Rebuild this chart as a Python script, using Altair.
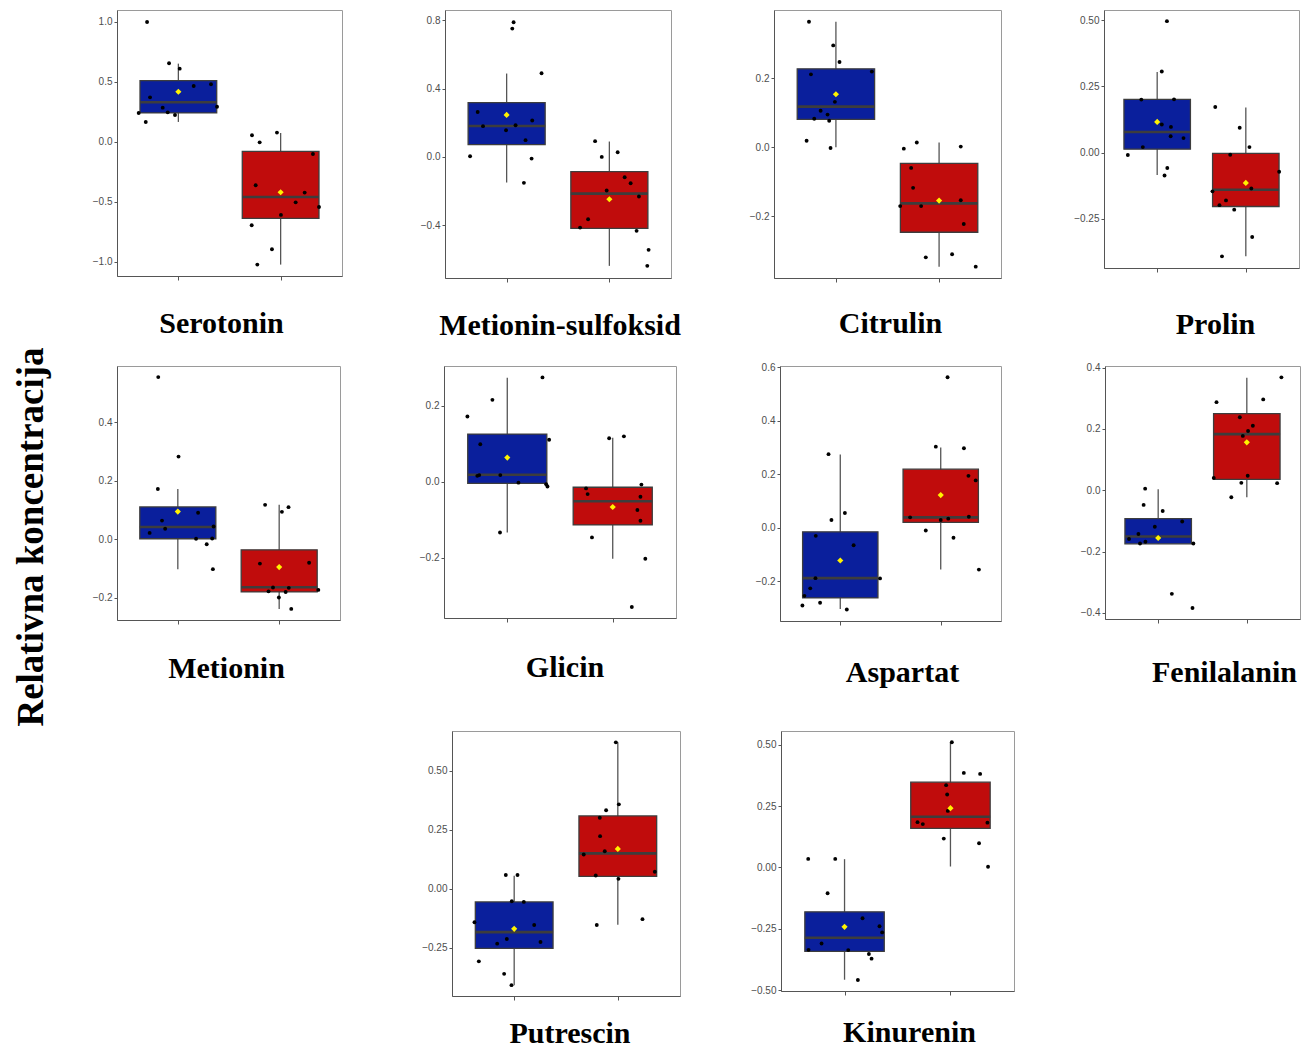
import altair as alt
import pandas as pd

NAMES = ["Serotonin", "Metionin-sulfoksid", "Citrulin", "Prolin",
         "Metionin", "Glicin", "Aspartat", "Fenilalanin",
         "Putrescin", "Kinurenin"]

# y-axis ranges and tick values per panel
Y_MIN = [-1.117, -0.709, -0.380, -0.435, -0.276, -0.358, -0.348, -0.420, -0.455, -0.504]
Y_MAX = [1.10, 0.86, 0.399, 0.538, 0.593, 0.305, 0.604, 0.405, 0.669, 0.557]
TICKS = [[-1.0, -0.5, 0.0, 0.5, 1.0], [-0.4, 0.0, 0.4, 0.8], [-0.2, 0.0, 0.2],
         [-0.25, 0.0, 0.25, 0.5], [-0.2, 0.0, 0.2, 0.4], [-0.2, 0.0, 0.2],
         [-0.2, 0.0, 0.2, 0.4, 0.6], [-0.4, -0.2, 0.0, 0.2, 0.4],
         [-0.25, 0.0, 0.25, 0.5], [-0.5, -0.25, 0.0, 0.25, 0.5]]
FORMATS = [".1f", ".1f", ".1f", ".2f", ".1f", ".1f", ".1f", ".1f", ".2f", ".2f"]

# box statistics, group A (blue) and group B (red)
A_Q1 = [0.242, 0.072, 0.081, 0.013, 0.002, -0.004, -0.262, -0.175, -0.253, -0.342]
A_MED = [0.331, 0.181, 0.118, 0.078, 0.042, 0.019, -0.188, -0.151, -0.184, -0.287]
A_Q3 = [0.511, 0.318, 0.228, 0.201, 0.111, 0.126, -0.015, -0.093, -0.056, -0.181]
A_LO = [0.167, -0.150, 0.0, -0.084, -0.102, -0.133, -0.303, -0.175, -0.409, -0.458]
A_HI = [0.653, 0.488, 0.365, 0.304, 0.172, 0.274, 0.274, 0.003, 0.055, 0.034]
A_MEAN = [0.419, 0.246, 0.154, 0.116, 0.095, 0.064, -0.122, -0.156, -0.170, -0.242]

B_Q1 = [-0.636, -0.418, -0.247, -0.203, -0.180, -0.113, 0.020, 0.035, 0.052, 0.160]
B_MED = [-0.458, -0.215, -0.163, -0.140, -0.164, -0.051, 0.039, 0.183, 0.150, 0.207]
B_Q3 = [-0.078, -0.086, -0.047, -0.003, -0.036, -0.014, 0.219, 0.250, 0.309, 0.348]
B_LO = [-1.022, -0.638, -0.347, -0.391, -0.238, -0.202, -0.156, -0.023, -0.153, 0.004]
B_HI = [0.075, 0.090, 0.014, 0.170, 0.118, 0.116, 0.300, 0.367, 0.621, 0.510]
B_MEAN = [-0.419, -0.248, -0.155, -0.114, -0.095, -0.066, 0.122, 0.156, 0.169, 0.242]

# individual observations (values) and their horizontal jitter
serotonin_a = [1.0, 0.656, 0.611, 0.467, 0.481, 0.372, 0.286, 0.247, 0.225, 0.294, 0.242, 0.167]
serotonin_a_jit = [-0.306, -0.091, 0.013, 0.150, 0.319, -0.277, -0.153, -0.104, -0.033, 0.378, -0.388, -0.319]
serotonin_b = [0.056, -0.003, 0.078, -0.100, -0.361, -0.422, -0.503, -0.542, -0.608, -0.694, -0.894, -1.022]
serotonin_b_jit = [-0.280, -0.205, -0.036, 0.316, -0.244, 0.235, 0.147, 0.375, 0.003, -0.283, -0.085, -0.228]

metsulf_a = [0.788, 0.751, 0.490, 0.263, 0.180, 0.185, 0.213, 0.156, 0.098, 0.004, -0.010, -0.152]
metsulf_a_jit = [0.068, 0.055, 0.340, -0.282, -0.230, 0.087, 0.249, -0.006, 0.184, -0.356, 0.243, 0.168]
metsulf_b = [0.092, 0.0, 0.027, -0.119, -0.154, -0.197, -0.232, -0.365, -0.414, -0.433, -0.544, -0.638]
metsulf_b_jit = [-0.139, -0.074, 0.081, 0.149, 0.207, -0.026, 0.288, -0.207, -0.285, 0.265, 0.382, 0.369]

citrulin_a = [0.365, 0.296, 0.248, 0.212, 0.220, 0.132, 0.106, 0.095, 0.083, 0.077, 0.019, -0.002]
citrulin_a_jit = [-0.261, -0.026, 0.035, -0.242, 0.348, -0.010, -0.148, -0.081, -0.210, -0.065, -0.284, -0.052]
citrulin_b = [0.014, -0.004, 0.002, -0.060, -0.118, -0.171, -0.171, -0.154, -0.223, -0.320, -0.311, -0.347]
citrulin_b_jit = [-0.216, -0.342, 0.210, -0.271, -0.252, -0.377, -0.174, 0.210, 0.239, -0.129, 0.126, 0.355]

prolin_a = [0.496, 0.306, 0.200, 0.201, 0.106, 0.097, 0.062, 0.055, 0.021, -0.009, -0.058, -0.086]
prolin_a_jit = [0.110, 0.052, -0.179, 0.190, 0.052, 0.155, 0.152, 0.297, -0.162, -0.331, 0.114, 0.083]
prolin_b = [0.172, 0.094, 0.021, -0.008, -0.072, -0.146, -0.135, -0.180, -0.198, -0.215, -0.318, -0.391]
prolin_b_jit = [-0.345, -0.069, 0.041, -0.176, 0.376, -0.376, 0.062, -0.224, -0.297, -0.131, 0.072, -0.269]

metionin_a = [0.555, 0.283, 0.172, 0.091, 0.064, 0.036, 0.022, 0.044, 0.002, 0.003, -0.017, -0.102]
metionin_a_jit = [-0.193, 0.007, -0.197, 0.200, -0.156, -0.125, -0.278, 0.353, 0.180, 0.339, 0.285, 0.346]
metionin_b = [0.118, 0.110, 0.094, -0.083, -0.080, -0.165, -0.166, -0.178, -0.180, -0.173, -0.199, -0.238]
metionin_b_jit = [-0.139, 0.092, 0.027, -0.190, 0.295, -0.061, 0.095, -0.105, 0.064, 0.386, -0.003, 0.119]

glicin_a = [0.275, 0.216, 0.172, 0.111, 0.099, 0.016, 0.018, 0.018, -0.002, -0.006, -0.012, -0.133]
glicin_a_jit = [0.334, -0.141, -0.378, 0.397, -0.256, -0.284, -0.266, -0.066, 0.106, 0.369, 0.381, -0.069]
glicin_b = [0.120, 0.115, -0.007, -0.017, -0.032, -0.039, -0.074, -0.102, -0.146, -0.202, -0.329]
glicin_b_jit = [0.106, -0.034, 0.272, -0.253, -0.238, 0.263, 0.234, 0.263, -0.197, 0.309, 0.181]

aspartat_a = [0.275, 0.055, 0.029, -0.030, -0.065, -0.188, -0.189, -0.226, -0.254, -0.280, -0.290, -0.305]
aspartat_a_jit = [-0.117, 0.046, -0.088, -0.244, 0.133, -0.247, 0.396, -0.299, -0.357, -0.201, -0.377, 0.065]
aspartat_b = [0.562, 0.303, 0.297, 0.194, 0.177, 0.039, 0.041, 0.029, 0.034, -0.010, -0.037, -0.156]
aspartat_b_jit = [0.068, -0.049, 0.231, 0.276, 0.348, -0.305, 0.280, 0.0, 0.075, -0.149, 0.127, 0.380]

fenil_a = [0.005, -0.048, -0.068, -0.102, -0.119, -0.143, -0.159, -0.168, -0.174, -0.174, -0.338, -0.384]
fenil_a_jit = [-0.147, -0.164, 0.051, 0.271, -0.038, -0.223, -0.329, -0.144, -0.205, 0.397, 0.154, 0.387]
fenil_b = [0.368, 0.287, 0.296, 0.238, 0.210, 0.193, 0.177, 0.047, 0.040, 0.024, 0.023, -0.023]
fenil_b_jit = [0.390, -0.342, 0.185, -0.079, 0.068, 0.014, -0.045, 0.010, -0.373, -0.062, 0.342, -0.175]

putrescin_a = [0.058, 0.058, -0.053, -0.056, -0.142, -0.154, -0.213, -0.233, -0.226, -0.308, -0.361, -0.409]
putrescin_a_jit = [-0.081, 0.032, -0.023, 0.093, -0.383, 0.193, -0.071, -0.164, 0.254, -0.341, -0.097, -0.026]
putrescin_b = [0.621, 0.358, 0.333, 0.301, 0.223, 0.145, 0.159, 0.056, 0.042, 0.072, -0.154, -0.129]
putrescin_b_jit = [-0.019, 0.010, -0.113, -0.174, -0.171, -0.329, -0.126, -0.213, 0.006, 0.357, -0.203, 0.238]

kinurenin_a = [0.035, 0.035, -0.105, -0.207, -0.240, -0.265, -0.310, -0.336, -0.337, -0.353, -0.372, -0.459]
kinurenin_a_jit = [-0.343, -0.088, -0.160, 0.170, 0.330, 0.355, -0.217, -0.340, 0.035, 0.230, 0.255, 0.126]
kinurenin_b = [0.511, 0.386, 0.382, 0.336, 0.298, 0.231, 0.185, 0.177, 0.183, 0.118, 0.099, 0.003]
kinurenin_b_jit = [0.013, 0.126, 0.280, -0.041, -0.031, -0.025, -0.311, -0.261, 0.349, -0.063, 0.270, 0.355]

POINTS = [
    (serotonin_a, serotonin_a_jit, serotonin_b, serotonin_b_jit),
    (metsulf_a, metsulf_a_jit, metsulf_b, metsulf_b_jit),
    (citrulin_a, citrulin_a_jit, citrulin_b, citrulin_b_jit),
    (prolin_a, prolin_a_jit, prolin_b, prolin_b_jit),
    (metionin_a, metionin_a_jit, metionin_b, metionin_b_jit),
    (glicin_a, glicin_a_jit, glicin_b, glicin_b_jit),
    (aspartat_a, aspartat_a_jit, aspartat_b, aspartat_b_jit),
    (fenil_a, fenil_a_jit, fenil_b, fenil_b_jit),
    (putrescin_a, putrescin_a_jit, putrescin_b, putrescin_b_jit),
    (kinurenin_a, kinurenin_a_jit, kinurenin_b, kinurenin_b_jit),
]

BLUE = "#0A1F9C"
RED = "#C00C0C"
EDGE = "#3d3d3d"
TITLE_FONT = "Liberation Serif"


def panel(i, w, h, toff, tdx):
    stats = pd.DataFrame({
        "grp": ["A", "B"], "g": [1, 2],
        "q1": [A_Q1[i], B_Q1[i]], "med": [A_MED[i], B_MED[i]],
        "q3": [A_Q3[i], B_Q3[i]], "lo": [A_LO[i], B_LO[i]],
        "hi": [A_HI[i], B_HI[i]], "mean": [A_MEAN[i], B_MEAN[i]],
    })
    va, ja, vb, jb = POINTS[i]
    pts = pd.DataFrame({
        "g": [1] * len(va) + [2] * len(vb),
        "jit": list(ja) + list(jb),
        "v": list(va) + list(vb),
    })
    xs = alt.Scale(domain=[0.4, 2.6], nice=False, zero=False)
    ys = alt.Scale(domain=[Y_MIN[i], Y_MAX[i]], nice=False, zero=False)
    xa = alt.Axis(values=[1, 2], labels=False, title="", ticks=True, tickSize=4, grid=False)
    ya = alt.Axis(values=TICKS[i], format=FORMATS[i], title="", grid=False)
    base = alt.Chart(stats).transform_calculate(xl="datum.g - 0.375", xr="datum.g + 0.375")
    whisk = base.mark_rule(color="#555555", strokeWidth=1.3).encode(
        x=alt.X("g:Q", scale=xs, axis=xa),
        y=alt.Y("lo:Q", scale=ys, axis=ya), y2="hi:Q")
    box = base.mark_rect(stroke=EDGE, strokeWidth=1.3).encode(
        x=alt.X("xl:Q", scale=xs, axis=xa), x2="xr:Q",
        y=alt.Y("q1:Q", scale=ys, axis=ya), y2="q3:Q",
        color=alt.Color("grp:N", scale=alt.Scale(domain=["A", "B"], range=[BLUE, RED]), legend=None))
    med = base.mark_rule(color=EDGE, strokeWidth=2.6).encode(
        x=alt.X("xl:Q", scale=xs, axis=xa), x2="xr:Q",
        y=alt.Y("med:Q", scale=ys, axis=ya))
    dots = alt.Chart(pts).transform_calculate(xp="datum.g + datum.jit").mark_circle(
        size=15, color="black", opacity=1).encode(
        x=alt.X("xp:Q", scale=xs, axis=xa),
        y=alt.Y("v:Q", scale=ys, axis=ya))
    mean = base.mark_point(shape="diamond", filled=True, color="#FFF200", size=38, opacity=1).encode(
        x=alt.X("g:Q", scale=xs, axis=xa),
        y=alt.Y("mean:Q", scale=ys, axis=ya))
    return alt.layer(whisk, box, med, dots, mean).properties(
        width=w, height=h,
        title=alt.TitleParams(NAMES[i], orient="bottom", offset=toff, dx=tdx, font=TITLE_FONT,
                              fontSize=30, fontWeight="bold", color="black"))


def spacer(w, h):
    return alt.Chart(pd.DataFrame({"a": [0]})).mark_point(opacity=0).encode(
        x=alt.value(0), y=alt.value(0)).properties(
        width=w, height=h, view=alt.ViewBackground(stroke="transparent"))


row1 = alt.hconcat(panel(0, 225, 266, 28, -8), panel(1, 226, 268, 28, 2),
                   panel(2, 227, 268, 26, 3), panel(3, 195, 258, 37, 14),
                   spacing=103, bounds="flush")
row2 = alt.hconcat(panel(4, 223, 254, 29, -2), panel(5, 232, 252, 30, 5),
                   panel(6, 221, 255, 32, 12), panel(7, 195, 253, 34, 22),
                   spacing=104, bounds="flush")
row3 = alt.hconcat(spacer(234, 10), panel(8, 228, 265, 18, 4), panel(9, 233, 260, 22, 12),
                   spacing=101, bounds="flush")

grid = alt.vconcat(alt.vconcat(row1, row2, spacing=20), row3, spacing=39)

ylabel = alt.Chart(pd.DataFrame({"t": ["Relativna koncentracija"]})).mark_text(
    angle=270, font=TITLE_FONT, fontSize=37, fontWeight="bold", color="black").encode(
    text="t:N", x=alt.value(13), y=alt.value(527)).properties(
    width=30, height=985, view=alt.ViewBackground(stroke="transparent"))

chart = alt.hconcat(ylabel, grid, spacing=68, bounds="flush").properties(
    padding={"left": 4, "top": 1, "right": 0, "bottom": 0}
).configure_view(stroke="#9a9a9a", strokeWidth=1).configure_axis(
    domainColor="#555555", tickColor="#555555", labelColor="#4d4d4d",
    labelFont="Liberation Sans", labelFontSize=10, tickSize=3, grid=False, labelPadding=2)

chart.save("out.html", embed_options={"renderer": "svg", "actions": False})
